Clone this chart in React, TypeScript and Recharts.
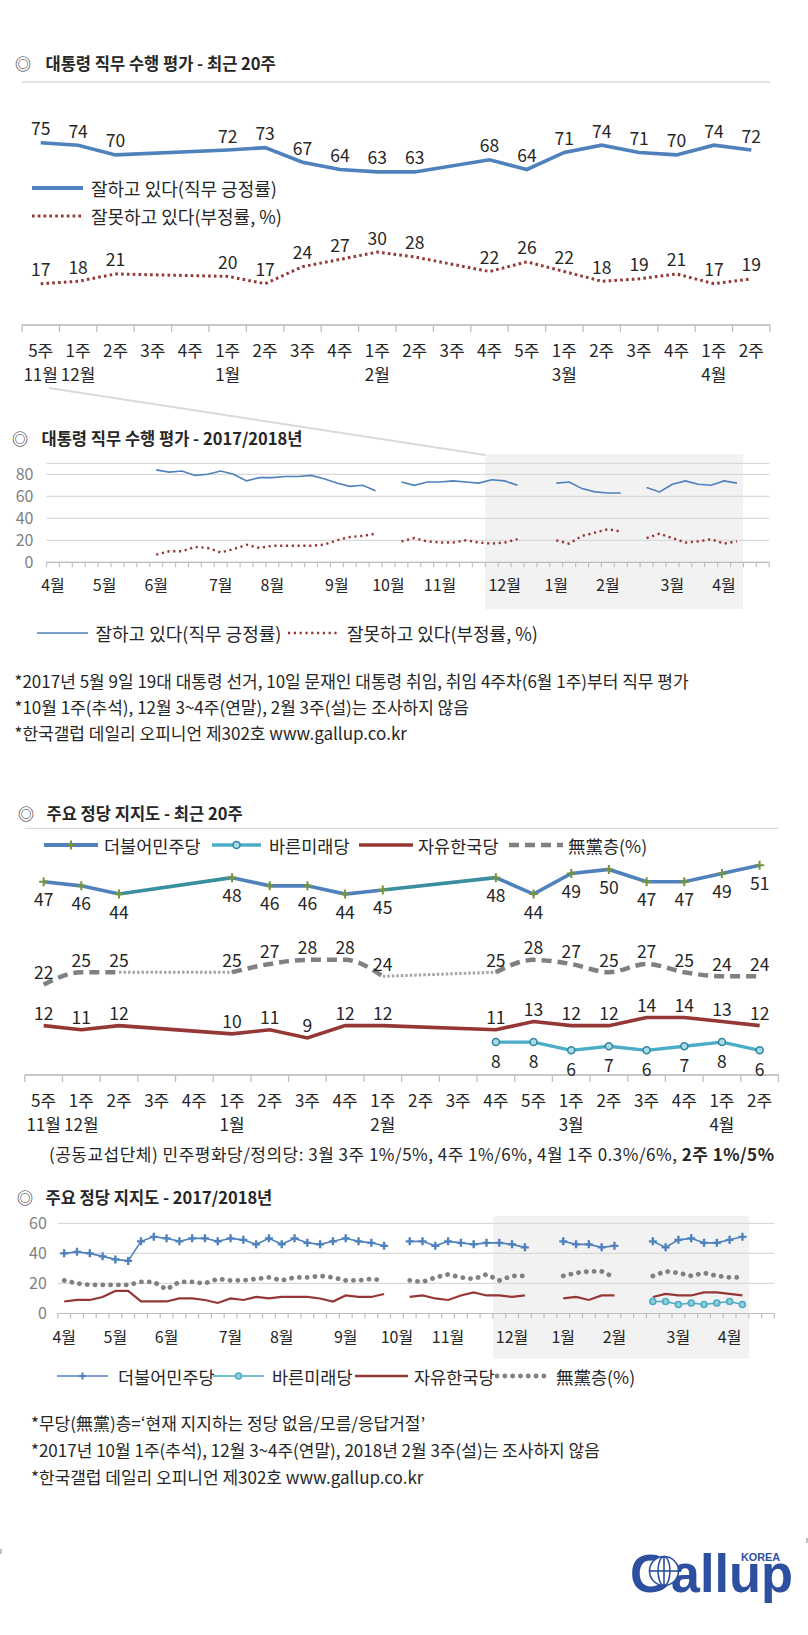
import React from 'react';
import { LineChart, Line, XAxis, YAxis, CartesianGrid, LabelList } from 'recharts';

const FONT = "'Noto Sans CJK KR', 'Noto Sans', sans-serif";
const INK = '#262626';
const BLUE = '#4F81BD';
const RED = '#953735';
const TEAL = '#4BACC6';
const GRAY = '#808080';
const GRID = '#d9d9d9';
const AXIS = '#bfbfbf';

const _ = null;
type V = number | null;

// 최근 20주: 2017년 11월 5주 ~ 2018년 4월 2주
const weeks20 = ['5주', '1주', '2주', '3주', '4주', '1주', '2주', '3주', '4주', '1주', '2주', '3주', '4주', '5주', '1주', '2주', '3주', '4주', '1주', '2주'];
const months20 = ['11월', '12월', '', '', '', '1월', '', '', '', '2월', '', '', '', '', '3월', '', '', '', '4월', ''];

const approve20: V[] = [75, 74, 70, _, _, 72, 73, 67, 64, 63, 63, _, 68, 64, 71, 74, 71, 70, 74, 72];
const disapprove20: V[] = [17, 18, 21, _, _, 20, 17, 24, 27, 30, 28, _, 22, 26, 22, 18, 19, 21, 17, 19];

const minju20: V[] = [47, 46, 44, _, _, 48, 46, 46, 44, 45, _, _, 48, 44, 49, 50, 47, 47, 49, 51];
const bareun20: V[] = [_, _, _, _, _, _, _, _, _, _, _, _, 8, 8, 6, 7, 6, 7, 8, 6];
const jayu20: V[] = [12, 11, 12, _, _, 10, 11, 9, 12, 12, _, _, 11, 13, 12, 12, 14, 14, 13, 12];
const mudang20: V[] = [22, 25, 25, _, _, 25, 27, 28, 28, 24, _, _, 25, 28, 27, 25, 27, 25, 24, 24];

// 2017/2018년 주별 (2017년 4월 1주부터)
const monthNames = ['4월', '5월', '6월', '7월', '8월', '9월', '10월', '11월', '12월', '1월', '2월', '3월', '4월'];
const monthWeeks = [4, 4, 5, 4, 5, 4, 4, 5, 4, 4, 5, 4, 4];

const approve56: V[] = [
  _, _, _, _, _, _, _, _,
  84, 82, 83, 79, 80, 83, 80, 74, 77, 77, 78, 78, 79, 76, 72, 69, 70, 65,
  _,
  73, 70, 73, 73, 74, 73, 72, 75, 74, 70,
  _, _,
  72, 73, 67, 64, 63, 63,
  _,
  68, 64, 71, 74, 71, 70, 74, 72,
  _, _,
];
const disapprove56: V[] = [
  _, _, _, _, _, _, _, _,
  7, 10, 10, 14, 13, 9, 12, 16, 13, 15, 15, 15, 15, 16, 20, 23, 24, 26,
  _,
  19, 22, 19, 18, 18, 20, 18, 17, 18, 21,
  _, _,
  20, 17, 24, 27, 30, 28,
  _,
  22, 26, 22, 18, 19, 21, 17, 19,
  _, _,
];
const minju56: V[] = [
  40, 41, 40, 38, 36, 35, 48, 51, 50, 48, 50, 50, 48, 50, 49, 46, 50, 46, 50, 47, 46, 48, 50, 48, 47, 45,
  _,
  48, 48, 45, 48, 47, 46, 47, 47, 46, 44,
  _, _,
  48, 46, 46, 44, 45,
  _, _,
  48, 44, 49, 50, 47, 47, 49, 51,
  _, _,
];
const jayu56: V[] = [
  8, 9, 9, 11, 15, 15, 8, 8, 8, 10, 10, 9, 7, 10, 9, 11, 10, 11, 11, 11, 10, 8, 12, 11, 11, 13,
  _,
  11, 12, 10, 9, 12, 14, 12, 12, 11, 12,
  _, _,
  10, 11, 9, 12, 12,
  _, _,
  11, 13, 12, 12, 14, 14, 13, 12,
  _, _,
];
const mudang56: V[] = [
  22, 20, 19, 19, 19, 19, 21, 21, 16, 21, 21, 20, 23, 22, 22, 23, 24, 22, 24, 24, 25, 24, 22, 22, 23, 22,
  _,
  22, 21, 24, 26, 24, 23, 26, 22, 25, 25,
  _, _,
  25, 27, 28, 28, 24,
  _, _,
  25, 28, 27, 25, 27, 25, 24, 24,
  _, _,
];
const bareun56: V[] = [
  _, _, _, _, _, _, _, _, _, _, _, _, _, _, _, _, _, _, _, _, _, _, _, _, _, _,
  _, _, _, _, _, _, _, _, _, _, _, _, _, _, _, _, _, _, _, _,
  8, 8, 6, 7, 6, 7, 8, 6,
  _, _,
];

const HIGHLIGHT_FROM = 34; // 최근 20주 시작 (2017년 11월 5주)

// ---- helpers
const months56: string[] = [];
monthNames.forEach((m, k) => {
  for (let w = 0; w < monthWeeks[k]; w++) months56.push(w === 0 ? m : '');
});

// gap connectors (Excel's "connect data points with line" for skipped weeks)
function gapLinks(vals: V[]): V[][] {
  const links: V[][] = [];
  let last = -1;
  vals.forEach((v, i) => {
    if (v == null) return;
    if (last >= 0 && i - last > 1) {
      const a: V[] = vals.map(() => null);
      a[last] = vals[last];
      a[i] = v;
      links.push(a);
    }
    last = i;
  });
  return links;
}

const minjuLinks = gapLinks(minju20);
const mudangLinks = gapLinks(mudang20);

const rows20 = weeks20.map((w, i) => {
  const r: any = {
    i,
    approve: approve20[i],
    disapprove: disapprove20[i],
    minju: minju20[i],
    bareun: bareun20[i],
    jayu: jayu20[i],
    mudang: mudang20[i],
  };
  minjuLinks.forEach((a, k) => (r['minjuGap' + k] = a[i]));
  mudangLinks.forEach((a, k) => (r['mudangGap' + k] = a[i]));
  return r;
});

const rows56 = months56.map((m, i) => ({
  i,
  approve: approve56[i],
  disapprove: disapprove56[i],
  minju: minju56[i],
  jayu: jayu56[i],
  mudang: mudang56[i],
  bareun: bareun56[i],
}));

// tick positions: band boundaries (k - 0.5) and centers (k)
const ticks20 = Array.from({ length: 2 * weeks20.length + 1 }, (_x, k) => k / 2 - 0.5);
const ticks56 = Array.from({ length: 2 * months56.length + 1 }, (_x, k) => k / 2 - 0.5).filter(
  (t) => !Number.isInteger(t) || months56[t] !== ''
);

const weekTick = (p: any) => {
  const { x, y, payload } = p;
  const v = payload.value;
  if (!Number.isInteger(v)) return <line x1={x} x2={x} y1={y} y2={y + 7} stroke={AXIS} strokeWidth={1.3} />;
  return (
    <g>
      <text x={x} y={y + 24} textAnchor="middle" dominantBaseline="central" fontSize={17} fill={INK} fontFamily={FONT}>
        {weeks20[v]}
      </text>
      {months20[v] ? (
        <text x={x} y={y + 48} textAnchor="middle" dominantBaseline="central" fontSize={17} fill={INK} fontFamily={FONT}>
          {months20[v]}
        </text>
      ) : null}
    </g>
  );
};

const monthTick = (p: any) => {
  const { x, y, payload } = p;
  const v = payload.value;
  if (!Number.isInteger(v)) return <line x1={x} x2={x} y1={y} y2={y + 5} stroke={AXIS} strokeWidth={1.2} />;
  return (
    <text x={x} y={y + 22} textAnchor="middle" dominantBaseline="central" fontSize={16} fill={INK} fontFamily={FONT}>
      {months56[v]}
    </text>
  );
};

const valueLabel = (dy: number) => (p: any) => {
  const { x, y, value } = p;
  if (value == null || x == null || y == null) return null;
  return (
    <text x={x} y={y + dy} textAnchor="middle" dominantBaseline="central" fontSize={17.5} fill={INK} fontFamily={FONT}>
      {value}
    </text>
  );
};

const plusDot = (color: string, s: number, w: number) => (p: any) => {
  const k = p.key ?? `p${p.index}`;
  if (p.value == null || p.cy == null || p.cx == null) return <g key={k} />;
  return (
    <path
      key={k}
      d={`M${p.cx - s},${p.cy}H${p.cx + s}M${p.cx},${p.cy - s}V${p.cy + s}`}
      stroke={color}
      strokeWidth={w}
      fill="none"
    />
  );
};

// ---- page geometry
const W = 808;
// chart 2: gridline 80 at y=474.3, axis (0) at y=562.3; the domain reaches 90 so the 84 peak stays inside the plot
const C2 = { top: 445, h: 160, grid80: 474.3, axis: 562.3, left: 46.5, right: 769.2 };
const C2plotTop = C2.axis - ((C2.axis - C2.grid80) * 90) / 80;
const C4 = { top: 1210, h: 150, plotTop: 1223.3, axis: 1313.5, left: 57.8, right: 774.4 };
const band2 = (C2.right - C2.left) / months56.length;
const band4 = (C4.right - C4.left) / months56.length;

const T = (props: any) => <text fontFamily={FONT} fill={INK} dominantBaseline="central" {...props} />;

function Chart1() {
  return (
    <div style={{ position: 'absolute', left: 0, top: 0 }}>
      <LineChart width={W} height={400} data={rows20} margin={{ top: 82, right: 38, bottom: 0, left: 22 }}>
        <CartesianGrid vertical={false} stroke={GRID} strokeWidth={1.3} />
        <XAxis
          type="number"
          dataKey="i"
          domain={[-0.5, weeks20.length - 0.5]}
          ticks={ticks20}
          interval={0}
          height={75}
          tickSize={0}
          tickMargin={0}
          tickLine={false}
          axisLine={{ stroke: AXIS, strokeWidth: 1.3 }}
          tick={weekTick}
        />
        <YAxis domain={[0, 100]} ticks={[0, 20, 40, 60, 80, 100]} interval={0} width={0} tick={false} axisLine={false} tickLine={false} />
        <Line type="linear" dataKey="approve" stroke={BLUE} strokeWidth={3.6} dot={false} connectNulls isAnimationActive={false}>
          <LabelList dataKey="approve" content={valueLabel(-15)} />
        </Line>
        <Line
          type="linear"
          dataKey="disapprove"
          stroke={RED}
          strokeWidth={3}
          strokeDasharray="2.6 3.2"
          dot={false}
          connectNulls
          isAnimationActive={false}
        >
          <LabelList dataKey="disapprove" content={valueLabel(-15)} />
        </Line>
      </LineChart>
    </div>
  );
}

function Chart2() {
  return (
    <div style={{ position: 'absolute', left: 0, top: C2.top }}>
      <LineChart
        width={W}
        height={C2.h}
        data={rows56}
        margin={{ top: C2plotTop - C2.top, right: W - C2.right, bottom: 0, left: 0 }}
      >
        <CartesianGrid vertical={false} stroke={GRID} strokeWidth={1.2} />
        <XAxis
          type="number"
          dataKey="i"
          domain={[-0.5, months56.length - 0.5]}
          ticks={ticks56}
          interval={0}
          height={C2.top + C2.h - C2.axis}
          tickSize={0}
          tickMargin={0}
          tickLine={false}
          axisLine={{ stroke: AXIS, strokeWidth: 1.2 }}
          tick={monthTick}
        />
        <YAxis
          domain={[0, 90]}
          ticks={[0, 20, 40, 60, 80]}
          interval={0}
          width={C2.left}
          tickSize={0}
          tickMargin={13}
          axisLine={false}
          tickLine={false}
          tick={{ fill: '#7f7f7f', fontSize: 16, fontFamily: FONT }}
        />
        <Line type="linear" dataKey="approve" stroke={BLUE} strokeWidth={1.6} dot={false} isAnimationActive={false} />
        <Line
          type="linear"
          dataKey="disapprove"
          stroke={RED}
          strokeWidth={2.4}
          strokeDasharray="2.2 3.6"
          dot={false}
          isAnimationActive={false}
        />
      </LineChart>
    </div>
  );
}

function Chart3() {
  return (
    <div style={{ position: 'absolute', left: 0, top: 800 }}>
      <LineChart width={W} height={340} data={rows20} margin={{ top: 28.3, right: 29.5, bottom: 0, left: 24.8 }}>
        <CartesianGrid vertical={false} stroke={GRID} strokeWidth={1.3} />
        <XAxis
          type="number"
          dataKey="i"
          domain={[-0.5, weeks20.length - 0.5]}
          ticks={ticks20}
          interval={0}
          height={65}
          tickSize={0}
          tickMargin={0}
          tickLine={false}
          axisLine={{ stroke: AXIS, strokeWidth: 1.3 }}
          tick={weekTick}
        />
        <YAxis domain={[0, 60]} ticks={[0, 20, 40, 60]} interval={0} width={0} tick={false} axisLine={false} tickLine={false} />
        {mudangLinks.map((_a, k) => (
          <Line
            key={'mg' + k}
            type="linear"
            dataKey={'mudangGap' + k}
            stroke="#a6a6a6"
            strokeWidth={3}
            strokeDasharray="2.5 2"
            dot={false}
            connectNulls
            isAnimationActive={false}
          />
        ))}
        <Line
          type="monotone"
          dataKey="mudang"
          stroke={GRAY}
          strokeWidth={4.5}
          strokeDasharray="10 6"
          dot={false}
          isAnimationActive={false}
        >
          <LabelList dataKey="mudang" content={valueLabel(-13)} />
        </Line>
        <Line type="linear" dataKey="jayu" stroke={RED} strokeWidth={3.6} dot={false} connectNulls isAnimationActive={false}>
          <LabelList dataKey="jayu" content={valueLabel(-13)} />
        </Line>
        <Line
          type="linear"
          dataKey="bareun"
          stroke={TEAL}
          strokeWidth={3.4}
          dot={{ r: 3.5, fill: '#a9dbe8', stroke: '#31859C', strokeWidth: 1.5 }}
          isAnimationActive={false}
        >
          <LabelList dataKey="bareun" content={valueLabel(18)} />
        </Line>
        {minjuLinks.map((_a, k) => (
          <Line
            key={'ng' + k}
            type="linear"
            dataKey={'minjuGap' + k}
            stroke="#3A8F9F"
            strokeWidth={3.6}
            dot={false}
            connectNulls
            isAnimationActive={false}
          />
        ))}
        <Line
          type="linear"
          dataKey="minju"
          stroke={BLUE}
          strokeWidth={3.6}
          dot={plusDot('#77933C', 4.5, 2)}
          isAnimationActive={false}
        >
          <LabelList dataKey="minju" content={valueLabel(17)} />
        </Line>
      </LineChart>
    </div>
  );
}

function Chart4() {
  return (
    <div style={{ position: 'absolute', left: 0, top: C4.top }}>
      <LineChart
        width={W}
        height={C4.h}
        data={rows56}
        margin={{ top: C4.plotTop - C4.top, right: W - C4.right, bottom: 0, left: 0 }}
      >
        <CartesianGrid vertical={false} stroke={GRID} strokeWidth={1.2} />
        <XAxis
          type="number"
          dataKey="i"
          domain={[-0.5, months56.length - 0.5]}
          ticks={ticks56}
          interval={0}
          height={C4.top + C4.h - C4.axis}
          tickSize={0}
          tickMargin={0}
          tickLine={false}
          axisLine={{ stroke: AXIS, strokeWidth: 1.2 }}
          tick={monthTick}
        />
        <YAxis
          domain={[0, 60]}
          ticks={[0, 20, 40, 60]}
          interval={0}
          width={C4.left}
          tickSize={0}
          tickMargin={11}
          axisLine={false}
          tickLine={false}
          tick={{ fill: '#7f7f7f', fontSize: 16, fontFamily: FONT }}
        />
        <Line
          type="linear"
          dataKey="mudang"
          stroke={GRAY}
          strokeWidth={4.8}
          strokeLinecap="round"
          strokeDasharray="0.1 7.7"
          dot={false}
          isAnimationActive={false}
        />
        <Line type="linear" dataKey="jayu" stroke={RED} strokeWidth={2.2} dot={false} isAnimationActive={false} />
        <Line
          type="linear"
          dataKey="bareun"
          stroke={TEAL}
          strokeWidth={1.6}
          dot={{ r: 3, fill: '#93CDDD', stroke: TEAL, strokeWidth: 1.6 }}
          isAnimationActive={false}
        />
        <Line
          type="linear"
          dataKey="minju"
          stroke={BLUE}
          strokeWidth={1.6}
          dot={plusDot(BLUE, 4, 2.4)}
          isAnimationActive={false}
        />
      </LineChart>
    </div>
  );
}

function Overlay() {
  return (
    <svg
      width={W}
      height={1635}
      style={{ position: 'absolute', left: 0, top: 0, pointerEvents: 'none' }}
    >
      {/* titles */}
      <T x={23} y={63} fontSize={16} textAnchor="middle">◎</T>
      <T x={45.5} y={63} fontSize={16.5} fontWeight="bold">대통령 직무 수행 평가 - 최근 20주</T>
      <T x={20} y={438} fontSize={16} textAnchor="middle">◎</T>
      <T x={41.5} y={438} fontSize={16.5} fontWeight="bold">대통령 직무 수행 평가 - 2017/2018년</T>
      <T x={26} y={813} fontSize={16} textAnchor="middle">◎</T>
      <T x={46.5} y={813} fontSize={16.5} fontWeight="bold">주요 정당 지지도 - 최근 20주</T>
      <T x={25} y={1197} fontSize={16} textAnchor="middle">◎</T>
      <T x={45.5} y={1197} fontSize={16.5} fontWeight="bold">주요 정당 지지도 - 2017/2018년</T>

      {/* zoom connector */}
      <line x1={49} y1={388} x2={C2.left + band2 * HIGHLIGHT_FROM} y2={455} stroke={GRID} strokeWidth={2} />

      {/* chart 1 legend */}
      <line x1={32} y1={188} x2={83} y2={188} stroke={BLUE} strokeWidth={4} />
      <T x={91} y={188} fontSize={18}>잘하고 있다(직무 긍정률)</T>
      <line x1={32} y1={216} x2={83} y2={216} stroke={RED} strokeWidth={3} strokeDasharray="2.6 3.2" />
      <T x={91} y={216} fontSize={18}>잘못하고 있다(부정률, %)</T>

      {/* chart 2 legend */}
      <line x1={37} y1={633} x2={88} y2={633} stroke={BLUE} strokeWidth={1.6} />
      <T x={95.5} y={633} fontSize={18}>잘하고 있다(직무 긍정률)</T>
      <line x1={288} y1={633} x2={338} y2={633} stroke={RED} strokeWidth={2.4} strokeDasharray="2.2 3.6" />
      <T x={347} y={633} fontSize={18}>잘못하고 있다(부정률, %)</T>

      {/* chart 2 notes */}
      <T x={14.5} y={680} fontSize={17}>*2017년 5월 9일 19대 대통령 선거, 10일 문재인 대통령 취임, 취임 4주차(6월 1주)부터 직무 평가</T>
      <T x={14.5} y={706} fontSize={17}>*10월 1주(추석), 12월 3~4주(연말), 2월 3주(설)는 조사하지 않음</T>
      <T x={14.5} y={732} fontSize={17}>*한국갤럽 데일리 오피니언 제302호 www.gallup.co.kr</T>

      {/* chart 3 legend */}
      <line x1={44} y1={845} x2={98} y2={845} stroke={BLUE} strokeWidth={4} />
      <path d="M66.5,845H75.5M71,840.5V849.5" stroke="#77933C" strokeWidth={2} />
      <T x={104} y={845} fontSize={17.5}>더불어민주당</T>
      <line x1={212} y1={845} x2={261} y2={845} stroke={TEAL} strokeWidth={3.4} />
      <circle cx={236.5} cy={845} r={3.5} fill="#a9dbe8" stroke="#31859C" strokeWidth={1.5} />
      <T x={269} y={845} fontSize={17.5}>바른미래당</T>
      <line x1={359} y1={845} x2={413} y2={845} stroke={RED} strokeWidth={3.6} />
      <T x={418} y={845} fontSize={17.5}>자유한국당</T>
      <line x1={509} y1={845} x2={563} y2={845} stroke={GRAY} strokeWidth={4.5} strokeDasharray="10 6" />
      <T x={568} y={845} fontSize={17.5}>無黨층(%)</T>

      {/* chart 3 note */}
      <T x={49} y={1153} fontSize={17} textLength={725} lengthAdjust="spacing">
        (공동교섭단체) 민주평화당/정의당: 3월 3주 1%/5%, 4주 1%/6%, 4월 1주 0.3%/6%,{' '}
        <tspan fontWeight="bold">2주 1%/5%</tspan>
      </T>

      {/* chart 4 legend */}
      <line x1={57} y1={1376} x2={108} y2={1376} stroke={BLUE} strokeWidth={1.6} />
      <path d="M79,1376H86M82.5,1372.5V1379.5" stroke={BLUE} strokeWidth={2} />
      <T x={118} y={1376} fontSize={17.5}>더불어민주당</T>
      <line x1={213} y1={1376} x2={264} y2={1376} stroke={TEAL} strokeWidth={1.6} />
      <circle cx={238.5} cy={1376} r={3} fill="#93CDDD" stroke={TEAL} strokeWidth={1.6} />
      <T x={272} y={1376} fontSize={17.5}>바른미래당</T>
      <line x1={355} y1={1376} x2={408} y2={1376} stroke={RED} strokeWidth={2.4} />
      <T x={414} y={1376} fontSize={17.5}>자유한국당</T>
      <line
        x1={497}
        y1={1376}
        x2={547}
        y2={1376}
        stroke={GRAY}
        strokeWidth={4.8}
        strokeLinecap="round"
        strokeDasharray="0.1 7.7"
      />
      <T x={556} y={1376} fontSize={17.5}>無黨층(%)</T>

      {/* chart 4 notes */}
      <T x={31} y={1422} fontSize={17}>*무당(無黨)층=‘현재 지지하는 정당 없음/모름/응답거절’</T>
      <T x={31} y={1449} fontSize={17}>*2017년 10월 1주(추석), 12월 3~4주(연말), 2018년 2월 3주(설)는 조사하지 않음</T>
      <T x={31} y={1476} fontSize={17}>*한국갤럽 데일리 오피니언 제302호 www.gallup.co.kr</T>

      {/* corner marks */}
      <rect x={0} y={1549} width={2} height={5} fill="#bfbfbf" />
      <rect x={806} y={1538} width={2} height={5} fill="#bfbfbf" />

      {/* Gallup Korea logo: one text element, KOREA set as a raised tspan */}
      <text fill="#2D4F9F" fontWeight="bold" fontFamily="'Liberation Sans', Arial, sans-serif">
        <tspan x={630} y={1592} fontSize={54} textLength={163} lengthAdjust="spacingAndGlyphs">
          Gallup
        </tspan>
        <tspan x={741} y={1561} fontSize={11.5} textLength={39} lengthAdjust="spacingAndGlyphs">
          KOREA
        </tspan>
      </text>
      <g stroke="#2D4F9F" strokeWidth={1.6} fill="none">
        <circle cx={664} cy={1571} r={14.5} fill="#fff" />
        <ellipse cx={664} cy={1571} rx={6} ry={14.5} />
        <line x1={649.5} y1={1571} x2={678.5} y2={1571} />
        <line x1={664} y1={1556.5} x2={664} y2={1585.5} />
      </g>
    </svg>
  );
}

export default function App() {
  return (
    <div style={{ position: 'absolute', left: 0, top: 0, width: W, height: 1635, background: '#fff', overflow: 'hidden' }}>
      <div
        style={{
          position: 'absolute',
          left: C2.left + band2 * HIGHLIGHT_FROM,
          top: 454,
          width: band2 * 20,
          height: 155,
          background: '#f2f2f2',
        }}
      />
      <div
        style={{
          position: 'absolute',
          left: C4.left + band4 * HIGHLIGHT_FROM,
          top: 1216,
          width: band4 * 20,
          height: 143,
          background: '#f2f2f2',
        }}
      />
      <Chart1 />
      <Chart2 />
      <Chart3 />
      <Chart4 />
      <Overlay />
    </div>
  );
}
